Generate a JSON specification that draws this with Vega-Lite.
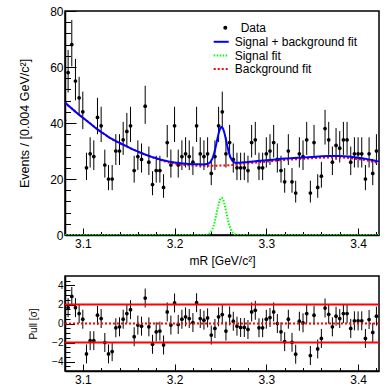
{
  "$schema": "https://vega.github.io/schema/vega-lite/v6.json",
  "padding": {"left": 17, "top": 4, "right": 0, "bottom": 0},
  "spacing": 8,
  "background": "white",
  "config": {
    "font": "Liberation Sans",
    "view": {"stroke": "black", "strokeWidth": 1.5},
    "axis": {"grid": false, "domainColor": "black", "domainWidth": 1.5, "tickColor": "black", "tickWidth": 1, "labelColor": "black", "titleColor": "black", "labelFont": "Liberation Sans", "titleFont": "Liberation Sans", "titleFontWeight": "normal"},
    "legend": {"orient": "none", "title": null, "padding": 0, "labelFontSize": 12, "labelFont": "Liberation Sans", "labelColor": "black", "labelLimit": 300, "rowPadding": 0}
  },
  "datasets": {
    "hist": [
      {"x":3.080,"n":41,"lo":35.1,"hi":47.9,"p":-1.04,"pl":-2.04,"ph":-0.04},
      {"x":3.084,"n":58,"lo":50.9,"hi":66.1,"p":1.67,"pl":0.67,"ph":2.67},
      {"x":3.088,"n":68,"lo":60.2,"hi":76.8,"p":2.85,"pl":1.85,"ph":3.85},
      {"x":3.092,"n":55,"lo":48.1,"hi":62.9,"p":1.67,"pl":0.67,"ph":2.67},
      {"x":3.096,"n":49,"lo":42.5,"hi":56.5,"p":1.04,"pl":0.04,"ph":2.04},
      {"x":3.100,"n":44,"lo":37.8,"hi":51.2,"p":0.45,"pl":-0.55,"ph":1.45},
      {"x":3.104,"n":24,"lo":19.6,"hi":29.4,"p":-3.2,"pl":-4.2,"ph":-2.2},
      {"x":3.108,"n":29,"lo":24.1,"hi":34.9,"p":-1.81,"pl":-2.81,"ph":-0.81},
      {"x":3.112,"n":28,"lo":23.2,"hi":33.8,"p":-1.81,"pl":-2.81,"ph":-0.81},
      {"x":3.116,"n":42,"lo":36.0,"hi":49.0,"p":0.87,"pl":-0.13,"ph":1.87},
      {"x":3.120,"n":39,"lo":33.2,"hi":45.8,"p":0.52,"pl":-0.48,"ph":1.52},
      {"x":3.124,"n":25,"lo":20.5,"hi":30.5,"p":-2.0,"pl":-3.0,"ph":-1.0},
      {"x":3.128,"n":20,"lo":16.0,"hi":25.0,"p":-3.2,"pl":-4.2,"ph":-2.2},
      {"x":3.132,"n":20,"lo":16.0,"hi":25.0,"p":-2.96,"pl":-3.96,"ph":-1.96},
      {"x":3.136,"n":30,"lo":25.0,"hi":36.0,"p":-0.45,"pl":-1.45,"ph":0.55},
      {"x":3.140,"n":30,"lo":25.0,"hi":36.0,"p":-0.35,"pl":-1.35,"ph":0.65},
      {"x":3.144,"n":34,"lo":28.6,"hi":40.4,"p":0.45,"pl":-0.55,"ph":1.45},
      {"x":3.148,"n":37,"lo":31.4,"hi":43.6,"p":1.04,"pl":0.04,"ph":2.04},
      {"x":3.152,"n":39,"lo":33.2,"hi":45.8,"p":1.46,"pl":0.46,"ph":2.46},
      {"x":3.156,"n":23,"lo":18.7,"hi":28.3,"p":-1.39,"pl":-2.39,"ph":-0.39},
      {"x":3.160,"n":28,"lo":23.2,"hi":33.8,"p":-0.17,"pl":-1.17,"ph":0.83},
      {"x":3.164,"n":27,"lo":22.3,"hi":32.7,"p":-0.28,"pl":-1.28,"ph":0.72},
      {"x":3.168,"n":46,"lo":39.7,"hi":53.3,"p":2.68,"pl":1.68,"ph":3.68},
      {"x":3.172,"n":26,"lo":21.4,"hi":31.6,"p":-0.35,"pl":-1.35,"ph":0.65},
      {"x":3.176,"n":18,"lo":14.2,"hi":22.8,"p":-2.19,"pl":-3.19,"ph":-1.19},
      {"x":3.180,"n":23,"lo":18.7,"hi":28.3,"p":-0.87,"pl":-1.87,"ph":0.13},
      {"x":3.184,"n":23,"lo":18.7,"hi":28.3,"p":-0.80,"pl":-1.80,"ph":0.20},
      {"x":3.188,"n":17,"lo":13.3,"hi":21.7,"p":-2.26,"pl":-3.26,"ph":-1.26},
      {"x":3.192,"n":33,"lo":27.7,"hi":39.3,"p":1.22,"pl":0.22,"ph":2.22},
      {"x":3.196,"n":25,"lo":20.5,"hi":30.5,"p":-0.17,"pl":-1.17,"ph":0.83},
      {"x":3.200,"n":39,"lo":33.2,"hi":45.8,"p":2.16,"pl":1.16,"ph":3.16},
      {"x":3.204,"n":25,"lo":20.5,"hi":30.5,"p":-0.10,"pl":-1.10,"ph":0.90},
      {"x":3.208,"n":28,"lo":23.2,"hi":33.8,"p":0.45,"pl":-0.55,"ph":1.45},
      {"x":3.212,"n":29,"lo":24.1,"hi":34.9,"p":0.70,"pl":-0.30,"ph":1.70},
      {"x":3.216,"n":28,"lo":23.2,"hi":33.8,"p":0.52,"pl":-0.48,"ph":1.52},
      {"x":3.220,"n":26,"lo":21.4,"hi":31.6,"p":0.10,"pl":-0.90,"ph":1.10},
      {"x":3.224,"n":39,"lo":33.2,"hi":45.8,"p":2.19,"pl":1.19,"ph":3.19},
      {"x":3.228,"n":29,"lo":24.1,"hi":34.9,"p":0.52,"pl":-0.48,"ph":1.52},
      {"x":3.232,"n":28,"lo":23.2,"hi":33.8,"p":0.35,"pl":-0.65,"ph":1.35},
      {"x":3.236,"n":29,"lo":24.1,"hi":34.9,"p":0.59,"pl":-0.41,"ph":1.59},
      {"x":3.240,"n":22,"lo":17.8,"hi":27.2,"p":-1.22,"pl":-2.22,"ph":-0.22},
      {"x":3.244,"n":28,"lo":23.2,"hi":33.8,"p":-0.52,"pl":-1.52,"ph":0.48},
      {"x":3.248,"n":39,"lo":33.2,"hi":45.8,"p":0.70,"pl":-0.30,"ph":1.70},
      {"x":3.252,"n":44,"lo":37.8,"hi":51.2,"p":0.94,"pl":-0.06,"ph":1.94},
      {"x":3.256,"n":29,"lo":24.1,"hi":34.9,"p":-0.80,"pl":-1.80,"ph":0.20},
      {"x":3.260,"n":33,"lo":27.7,"hi":39.3,"p":0.80,"pl":-0.20,"ph":1.80},
      {"x":3.264,"n":27,"lo":22.3,"hi":32.7,"p":0.24,"pl":-0.76,"ph":1.24},
      {"x":3.268,"n":24,"lo":19.6,"hi":29.4,"p":-0.28,"pl":-1.28,"ph":0.72},
      {"x":3.272,"n":24,"lo":19.6,"hi":29.4,"p":-0.42,"pl":-1.42,"ph":0.58},
      {"x":3.276,"n":24,"lo":19.6,"hi":29.4,"p":-0.42,"pl":-1.42,"ph":0.58},
      {"x":3.280,"n":23,"lo":18.7,"hi":28.3,"p":-0.63,"pl":-1.63,"ph":0.37},
      {"x":3.284,"n":33,"lo":27.7,"hi":39.3,"p":1.22,"pl":0.22,"ph":2.22},
      {"x":3.288,"n":34,"lo":28.6,"hi":40.4,"p":1.39,"pl":0.39,"ph":2.39},
      {"x":3.292,"n":24,"lo":19.6,"hi":29.4,"p":-0.45,"pl":-1.45,"ph":0.55},
      {"x":3.296,"n":24,"lo":19.6,"hi":29.4,"p":-0.45,"pl":-1.45,"ph":0.55},
      {"x":3.300,"n":29,"lo":24.1,"hi":34.9,"p":0.45,"pl":-0.55,"ph":1.45},
      {"x":3.304,"n":30,"lo":25.0,"hi":36.0,"p":0.63,"pl":-0.37,"ph":1.63},
      {"x":3.308,"n":33,"lo":27.7,"hi":39.3,"p":1.22,"pl":0.22,"ph":2.22},
      {"x":3.312,"n":27,"lo":22.3,"hi":32.7,"p":0.0,"pl":-1.0,"ph":1.0},
      {"x":3.316,"n":23,"lo":18.7,"hi":28.3,"p":-0.87,"pl":-1.87,"ph":0.13},
      {"x":3.320,"n":19,"lo":15.1,"hi":23.9,"p":-1.91,"pl":-2.91,"ph":-0.91},
      {"x":3.324,"n":30,"lo":25.0,"hi":36.0,"p":0.45,"pl":-0.55,"ph":1.45},
      {"x":3.328,"n":19,"lo":15.1,"hi":23.9,"p":-1.98,"pl":-2.98,"ph":-0.98},
      {"x":3.332,"n":15,"lo":11.6,"hi":19.4,"p":-3.23,"pl":-4.23,"ph":-2.23},
      {"x":3.336,"n":29,"lo":24.1,"hi":34.9,"p":0.24,"pl":-0.76,"ph":1.24},
      {"x":3.340,"n":28,"lo":23.2,"hi":33.8,"p":0.07,"pl":-0.93,"ph":1.07},
      {"x":3.344,"n":34,"lo":28.6,"hi":40.4,"p":1.04,"pl":0.04,"ph":2.04},
      {"x":3.348,"n":15,"lo":11.6,"hi":19.4,"p":-3.37,"pl":-4.37,"ph":-2.37},
      {"x":3.352,"n":33,"lo":27.7,"hi":39.3,"p":0.87,"pl":-0.13,"ph":1.87},
      {"x":3.356,"n":17,"lo":13.3,"hi":21.7,"p":-2.68,"pl":-3.68,"ph":-1.68},
      {"x":3.360,"n":21,"lo":16.9,"hi":26.1,"p":-1.57,"pl":-2.57,"ph":-0.57},
      {"x":3.364,"n":38,"lo":32.3,"hi":44.7,"p":1.63,"pl":0.63,"ph":2.63},
      {"x":3.368,"n":34,"lo":28.6,"hi":40.4,"p":0.97,"pl":-0.03,"ph":1.97},
      {"x":3.372,"n":26,"lo":21.4,"hi":31.6,"p":-0.35,"pl":-1.35,"ph":0.65},
      {"x":3.376,"n":32,"lo":26.8,"hi":38.2,"p":0.77,"pl":-0.23,"ph":1.77},
      {"x":3.380,"n":31,"lo":25.9,"hi":37.1,"p":0.52,"pl":-0.48,"ph":1.52},
      {"x":3.384,"n":34,"lo":28.6,"hi":40.4,"p":1.04,"pl":0.04,"ph":2.04},
      {"x":3.388,"n":34,"lo":28.6,"hi":40.4,"p":1.04,"pl":0.04,"ph":2.04},
      {"x":3.392,"n":26,"lo":21.4,"hi":31.6,"p":-0.52,"pl":-1.52,"ph":0.48},
      {"x":3.396,"n":29,"lo":24.1,"hi":34.9,"p":0.28,"pl":-0.72,"ph":1.28},
      {"x":3.400,"n":29,"lo":24.1,"hi":34.9,"p":0.28,"pl":-0.72,"ph":1.28},
      {"x":3.404,"n":29,"lo":24.1,"hi":34.9,"p":0.28,"pl":-0.72,"ph":1.28},
      {"x":3.408,"n":20,"lo":16.0,"hi":25.0,"p":-1.57,"pl":-2.57,"ph":-0.57},
      {"x":3.412,"n":29,"lo":24.1,"hi":34.9,"p":0.42,"pl":-0.58,"ph":1.42},
      {"x":3.416,"n":22,"lo":17.8,"hi":27.2,"p":-0.94,"pl":-1.94,"ph":0.06},
      {"x":3.420,"n":30,"lo":25.0,"hi":36.0,"p":0.77,"pl":-0.23,"ph":1.77}
    ],
    "fit": [
      {"x":3.0806,"b":47.3,"s":0,"t":47.3},
      {"x":3.085,"b":46.0,"s":0,"t":46.0},
      {"x":3.090,"b":44.6,"s":0,"t":44.6},
      {"x":3.095,"b":43.2,"s":0,"t":43.2},
      {"x":3.100,"b":41.9,"s":0,"t":41.9},
      {"x":3.105,"b":40.6,"s":0,"t":40.6},
      {"x":3.110,"b":39.3,"s":0,"t":39.3},
      {"x":3.115,"b":38.0,"s":0,"t":38.0},
      {"x":3.120,"b":36.8,"s":0,"t":36.8},
      {"x":3.125,"b":35.7,"s":0,"t":35.7},
      {"x":3.130,"b":34.6,"s":0,"t":34.6},
      {"x":3.135,"b":33.7,"s":0,"t":33.7},
      {"x":3.140,"b":32.9,"s":0,"t":32.9},
      {"x":3.145,"b":32.1,"s":0,"t":32.1},
      {"x":3.150,"b":31.3,"s":0,"t":31.3},
      {"x":3.155,"b":30.5,"s":0,"t":30.5},
      {"x":3.160,"b":29.8,"s":0,"t":29.8},
      {"x":3.165,"b":29.1,"s":0,"t":29.1},
      {"x":3.170,"b":28.5,"s":0,"t":28.5},
      {"x":3.175,"b":27.9,"s":0,"t":27.9},
      {"x":3.180,"b":27.3,"s":0,"t":27.4},
      {"x":3.185,"b":26.75,"s":0,"t":26.9},
      {"x":3.190,"b":26.25,"s":0,"t":26.5},
      {"x":3.195,"b":25.8,"s":0,"t":26.2},
      {"x":3.200,"b":25.45,"s":0,"t":25.9},
      {"x":3.205,"b":25.2,"s":0,"t":25.7},
      {"x":3.210,"b":25.0,"s":0,"t":25.5},
      {"x":3.215,"b":24.9,"s":0,"t":25.4},
      {"x":3.220,"b":24.8,"s":0,"t":25.3},
      {"x":3.225,"b":24.75,"s":0,"t":25.25},
      {"x":3.2312,"b":24.7,"s":0.01,"t":25.21},
      {"x":3.2352,"b":24.7,"s":0.12,"t":25.32},
      {"x":3.2372,"b":24.7,"s":0.36,"t":25.56},
      {"x":3.2392,"b":24.7,"s":0.93,"t":26.13},
      {"x":3.2412,"b":24.7,"s":2.09,"t":27.29},
      {"x":3.2422,"b":24.7,"s":2.97,"t":28.17},
      {"x":3.2432,"b":24.7,"s":4.07,"t":29.27},
      {"x":3.2442,"b":24.7,"s":5.37,"t":30.57},
      {"x":3.2452,"b":24.75,"s":6.83,"t":32.08},
      {"x":3.2462,"b":24.75,"s":8.38,"t":33.63},
      {"x":3.2472,"b":24.75,"s":9.89,"t":35.14},
      {"x":3.2482,"b":24.75,"s":11.26,"t":36.51},
      {"x":3.2492,"b":24.8,"s":12.35,"t":37.65},
      {"x":3.2502,"b":24.8,"s":13.06,"t":38.36},
      {"x":3.2512,"b":24.8,"s":13.3,"t":38.6},
      {"x":3.2522,"b":24.8,"s":13.06,"t":38.36},
      {"x":3.2532,"b":24.8,"s":12.35,"t":37.65},
      {"x":3.2542,"b":24.85,"s":11.26,"t":36.61},
      {"x":3.2552,"b":24.85,"s":9.89,"t":35.24},
      {"x":3.2562,"b":24.85,"s":8.38,"t":33.73},
      {"x":3.2572,"b":24.9,"s":6.83,"t":32.23},
      {"x":3.2582,"b":24.9,"s":5.37,"t":30.77},
      {"x":3.2592,"b":24.9,"s":4.07,"t":29.47},
      {"x":3.2602,"b":24.95,"s":2.97,"t":28.42},
      {"x":3.2612,"b":25.0,"s":2.09,"t":27.59},
      {"x":3.2632,"b":25.05,"s":0.93,"t":26.48},
      {"x":3.2652,"b":25.1,"s":0.36,"t":25.96},
      {"x":3.2672,"b":25.15,"s":0.12,"t":25.77},
      {"x":3.2712,"b":25.3,"s":0.01,"t":25.81},
      {"x":3.280,"b":25.6,"s":0,"t":26.1},
      {"x":3.290,"b":25.9,"s":0,"t":26.4},
      {"x":3.300,"b":26.2,"s":0,"t":26.7},
      {"x":3.310,"b":26.5,"s":0,"t":27.0},
      {"x":3.320,"b":26.8,"s":0,"t":27.3},
      {"x":3.330,"b":27.0,"s":0,"t":27.5},
      {"x":3.340,"b":27.2,"s":0,"t":27.7},
      {"x":3.350,"b":27.4,"s":0,"t":27.9},
      {"x":3.360,"b":27.6,"s":0,"t":28.1},
      {"x":3.370,"b":27.7,"s":0,"t":28.2},
      {"x":3.380,"b":27.7,"s":0,"t":28.2},
      {"x":3.390,"b":27.5,"s":0,"t":28.0},
      {"x":3.400,"b":27.1,"s":0,"t":27.6},
      {"x":3.410,"b":26.6,"s":0,"t":27.1},
      {"x":3.420,"b":25.9,"s":0,"t":26.4},
      {"x":3.4228,"b":25.7,"s":0,"t":26.2}
    ]
  },
  "vconcat": [
    {
      "width": 314,
      "height": 224,
      "resolve": {"axis": {"x": "independent", "y": "independent"}},
      "layer": [
        {
          "data": {"name": "hist"},
          "mark": {"type": "rule", "color": "black", "strokeWidth": 1, "clip": true},
          "encoding": {
            "x": {"field": "x", "type": "quantitative", "scale": {"domain": [3.0806, 3.4228], "nice": false, "zero": false},
                  "axis": {"orient": "bottom", "values": [3.1, 3.2, 3.3, 3.4], "format": ".1f", "tickSize": -7, "labelPadding": 10, "labelFontSize": 12, "title": "mR [GeV/c²]", "titleFontSize": 12, "titlePadding": 6}},
            "y": {"field": "lo", "type": "quantitative", "scale": {"domain": [0, 80], "nice": false},
                  "axis": {"orient": "left", "values": [0, 20, 40, 60, 80], "tickSize": -11, "labelPadding": 13, "labelFontSize": 12, "title": "Events / [0.004 GeV/c²]", "titleFontSize": 12.5, "titlePadding": 18}},
            "y2": {"field": "hi"}
          }
        },
        {
          "data": {"name": "hist"},
          "mark": {"type": "point", "filled": true, "size": 14, "opacity": 1, "color": "black", "clip": true},
          "encoding": {
            "x": {"field": "x", "type": "quantitative",
                  "axis": {"orient": "bottom", "values": [3.1, 3.12, 3.14, 3.16, 3.18, 3.2, 3.22, 3.24, 3.26, 3.28, 3.3, 3.32, 3.34, 3.36, 3.38, 3.4, 3.42], "tickSize": -3.5, "labels": false, "domain": false, "title": null}},
            "y": {"field": "n", "type": "quantitative",
                  "axis": {"orient": "left", "values": [4, 8, 12, 16, 24, 28, 32, 36, 44, 48, 52, 56, 64, 68, 72, 76], "tickSize": -5.5, "labels": false, "domain": false, "title": null}},
            "shape": {
              "datum": "Data", "type": "nominal",
              "scale": {"domain": ["Data"], "range": ["circle"]},
              "legend": {"legendX": 154.3, "legendY": 10.8, "symbolType": "circle", "symbolSize": 16, "symbolFillColor": "black", "symbolStrokeWidth": 0, "labelOffset": 9.4}
            }
          }
        },
        {
          "data": {"name": "fit"},
          "mark": {"type": "line", "strokeDash": [2, 2], "color": "#ff0000", "interpolate": "monotone", "clip": true},
          "encoding": {
            "x": {"field": "x", "type": "quantitative", "axis": null},
            "y": {"field": "b", "type": "quantitative", "axis": null},
            "strokeWidth": {
              "datum": "Background fit", "type": "ordinal",
              "scale": {"domain": ["Background fit"], "range": [2, 2]},
              "legend": {"legendX": 147.7, "legendY": 49.6, "symbolType": "stroke", "symbolSize": 225, "symbolStrokeColor": "#ff0000", "symbolDash": [2, 2], "labelOffset": 5}
            }
          }
        },
        {
          "data": {"name": "fit"},
          "mark": {"type": "line", "strokeWidth": 2, "color": "#00ff00", "interpolate": "monotone", "clip": true},
          "encoding": {
            "x": {"field": "x", "type": "quantitative", "axis": null},
            "y": {"field": "s", "type": "quantitative", "axis": null},
            "strokeDash": {
              "datum": "Signal fit", "type": "nominal",
              "scale": {"domain": ["Signal fit"], "range": [[1.5, 1.5]]},
              "legend": {"legendX": 147.7, "legendY": 36.1, "symbolType": "stroke", "symbolSize": 225, "symbolStrokeColor": "#00ff00", "symbolStrokeWidth": 2, "labelOffset": 5}
            }
          }
        },
        {
          "data": {"name": "fit"},
          "mark": {"type": "line", "strokeWidth": 2, "interpolate": "monotone", "clip": true},
          "encoding": {
            "x": {"field": "x", "type": "quantitative", "axis": null},
            "y": {"field": "t", "type": "quantitative", "axis": null},
            "color": {
              "datum": "Signal + background fit", "type": "nominal",
              "scale": {"domain": ["Signal + background fit"], "range": ["#0000ff"]},
              "legend": {"legendX": 147.7, "legendY": 22.3, "symbolType": "stroke", "symbolSize": 225, "symbolStrokeWidth": 2, "labelOffset": 5}
            }
          }
        }
      ]
    },
    {
      "width": 314,
      "height": 95,
      "resolve": {"axis": {"x": "independent", "y": "independent"}},
      "layer": [
        {
          "data": {"name": "hist"},
          "mark": {"type": "rule", "color": "black", "strokeWidth": 1, "clip": true},
          "encoding": {
            "x": {"field": "x", "type": "quantitative", "scale": {"domain": [3.0806, 3.4228], "nice": false, "zero": false},
                  "axis": {"orient": "bottom", "values": [3.1, 3.2, 3.3, 3.4], "format": ".1f", "tickSize": -7, "labelPadding": 10, "labelFontSize": 12, "title": null}},
            "y": {"field": "pl", "type": "quantitative", "scale": {"domain": [-5, 5], "nice": false},
                  "axis": {"orient": "left", "values": [-4, -2, 0, 2, 4], "tickSize": -9.5, "labelPadding": 11.5, "labelFontSize": 10, "title": "Pull [σ]", "titleFontSize": 10, "titlePadding": 13}},
            "y2": {"field": "ph"}
          }
        },
        {
          "data": {"name": "hist"},
          "mark": {"type": "point", "filled": true, "size": 14, "opacity": 1, "color": "black", "clip": true},
          "encoding": {
            "x": {"field": "x", "type": "quantitative",
                  "axis": {"orient": "bottom", "values": [3.1, 3.12, 3.14, 3.16, 3.18, 3.2, 3.22, 3.24, 3.26, 3.28, 3.3, 3.32, 3.34, 3.36, 3.38, 3.4, 3.42], "tickSize": -3.5, "labels": false, "domain": false, "title": null}},
            "y": {"field": "p", "type": "quantitative",
                  "axis": {"orient": "left", "values": [-4.5, -3.5, -3, -2.5, -1.5, -1, -0.5, 0.5, 1, 1.5, 2.5, 3, 3.5, 4.5], "tickSize": -5, "labels": false, "domain": false, "title": null}}
          }
        },
        {
          "data": {"values": [{}]},
          "mark": {"type": "rule", "color": "#ff0000", "strokeWidth": 2},
          "encoding": {"y": {"datum": 2, "type": "quantitative", "axis": null}}
        },
        {
          "data": {"values": [{}]},
          "mark": {"type": "rule", "color": "#ff0000", "strokeWidth": 2},
          "encoding": {"y": {"datum": -2, "type": "quantitative", "axis": null}}
        },
        {
          "data": {"values": [{}]},
          "mark": {"type": "rule", "color": "#ff0000", "strokeWidth": 2, "strokeDash": [2, 2]},
          "encoding": {"y": {"datum": 0, "type": "quantitative", "axis": null}}
        }
      ]
    }
  ]
}
